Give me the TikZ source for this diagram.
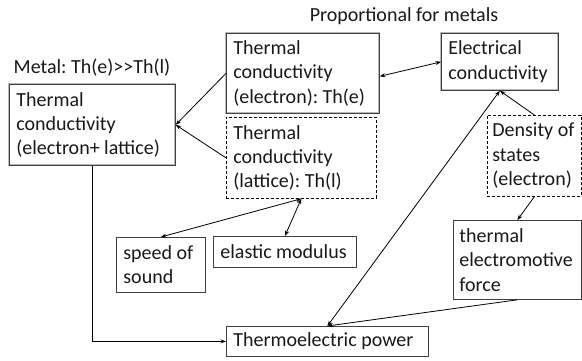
\documentclass[tikz,border=0pt]{standalone}
\usepackage{fontspec}
\setmainfont{Carlito}
\usetikzlibrary{arrows.meta}
\begin{document}
\frenchspacing
\begin{tikzpicture}[x=1pt,y=-1pt,
  every node/.style={font=\fontsize{20}{24.4}\selectfont\frenchspacing, text=black!90},
  base/.style={anchor=north west, align=left, inner xsep=7pt, inner ysep=0pt,
    execute at begin node={\spaceskip=0pt\xspaceskip=0pt}},
  dbox/.style={base, draw=gray!55, double=black!75, double distance=0.8pt, line width=0.7pt},
  sbox/.style={base, draw=black!75, line width=0.8pt},
  dashbox/.style={base, draw=black, line width=0.7pt, dash pattern=on 3pt off 2pt},
  tip/.tip={Stealth[length=5.5pt,width=4pt]},
  conn/.style={line width=0.8pt, -tip},
  bconn/.style={line width=0.8pt, tip-tip}]
\useasboundingbox (0,0) rectangle (582,360);

\node[dbox, minimum width=166, minimum height=81, text width=152] (left) at (9,84)
  {Thermal\\conductivity\\(electron+ lattice)};
\node[dbox, minimum width=153, minimum height=80, text width=139] (the) at (226,33)
  {Thermal\\conductivity\\(electron): Th(e)};
\node[dashbox, minimum width=150, minimum height=81, text width=136] (lat) at (226,117)
  {Thermal\\conductivity\\(lattice): Th(l)};
\node[dbox, minimum width=117, minimum height=57, text width=103] (ec) at (441,33)
  {Electrical\\conductivity};
\node[dashbox, inner xsep=5pt, minimum width=94, minimum height=81, text width=84] (dos) at (487,115)
  {Density~of\\states\\(electron)};
\node[sbox, inner xsep=6pt, minimum width=128, minimum height=79, text width=116] (emf) at (453,220)
  {thermal\\electromotive\\force};
\node[sbox, minimum width=89, minimum height=55, text width=75] (speed) at (116,237)
  {speed of\\sound};
\node[sbox, minimum width=143, minimum height=31, text width=129] (elastic) at (213,236)
  {elastic modulus};
\node[sbox, minimum width=202, minimum height=30, text width=188] (tp) at (226,326)
  {Thermoelectric power};

\node[anchor=base, inner sep=0pt] (metal) at (92,73) {Metal: Th(e)>{}>Th(l)};
\node[anchor=base, inner sep=0pt] (prop) at (404,21) {Proportional for metals};

\draw[conn] (the.west) -- (left.east);
\draw[conn] (lat.west) -- (left.east);
\draw[bconn] ([yshift=-3pt]the.east) -- (ec.west);
\draw[conn] (dos.north) -- (ec.south);
\draw[bconn] (tp.north) -- (ec.south);
\draw[conn] (dos.south) -- (emf.north);
\draw[conn] (emf.south) -- (tp.north);
\draw[bconn] (lat.south) -- (speed.north);
\draw[bconn] (lat.south) -- (elastic.north);
\draw[conn] (left.south) |- (tp.west);
\end{tikzpicture}
\end{document}
